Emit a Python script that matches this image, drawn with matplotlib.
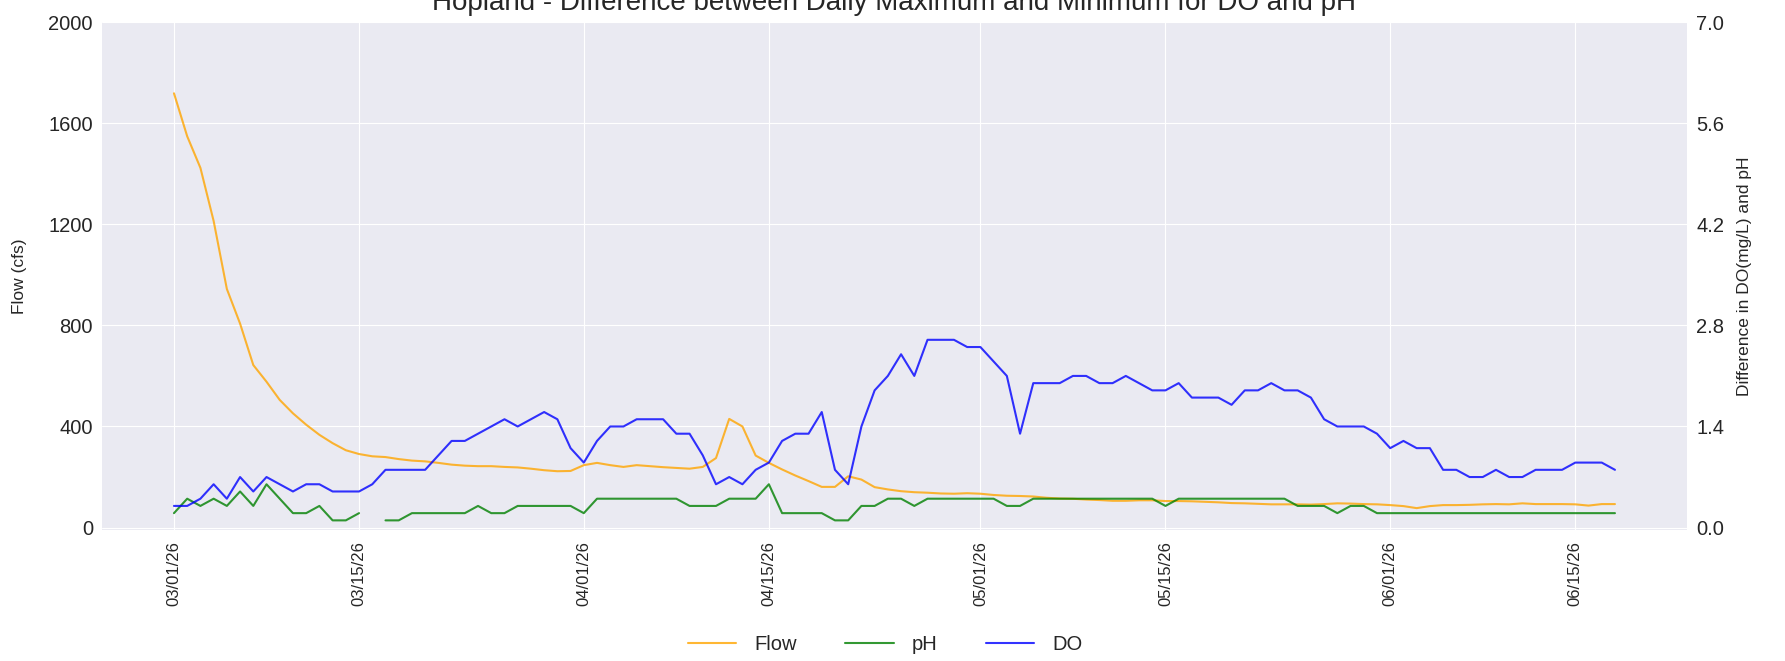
import numpy as np
import pandas as pd
import matplotlib
matplotlib.use('Agg')
import matplotlib.pyplot as plt
import matplotlib.dates as mdates

# daily values, 03/01/26 .. 06/18/26
dates = pd.date_range('2026-03-01', periods=110, freq='D')

flow = [1718, 1548, 1423, 1213, 944, 807, 643, 577, 505, 452,
        407, 367, 334, 306, 291, 282, 279, 271, 265, 262,
        256, 249, 245, 243, 243, 240, 238, 233, 227, 223,
        224, 247, 256, 247, 240, 247, 243, 239, 236, 233,
        240, 275, 430, 400, 285, 256, 230, 206, 184, 161,
        161, 203, 190, 160, 151, 144, 140, 138, 135, 134,
        136, 134, 129, 126, 125, 123, 118, 115, 114, 111,
        109, 106, 106, 108, 108, 105, 105, 104, 102, 100,
        97, 96, 94, 92, 92, 92, 91, 93, 96, 95,
        93, 92, 89, 85, 77, 85, 89, 89, 90, 92,
        93, 92, 96, 93, 93, 93, 92, 87, 93, 93]

ph = [0.2, 0.4, 0.3, 0.4, 0.3, 0.5, 0.3, 0.6, 0.4, 0.2,
      0.2, 0.3, 0.1, 0.1, 0.2, np.nan, 0.1, 0.1, 0.2, 0.2,
      0.2, 0.2, 0.2, 0.3, 0.2, 0.2, 0.3, 0.3, 0.3, 0.3,
      0.3, 0.2, 0.4, 0.4, 0.4, 0.4, 0.4, 0.4, 0.4, 0.3,
      0.3, 0.3, 0.4, 0.4, 0.4, 0.6, 0.2, 0.2, 0.2, 0.2,
      0.1, 0.1, 0.3, 0.3, 0.4, 0.4, 0.3, 0.4, 0.4, 0.4,
      0.4, 0.4, 0.4, 0.3, 0.3, 0.4, 0.4, 0.4, 0.4, 0.4,
      0.4, 0.4, 0.4, 0.4, 0.4, 0.3, 0.4, 0.4, 0.4, 0.4,
      0.4, 0.4, 0.4, 0.4, 0.4, 0.3, 0.3, 0.3, 0.2, 0.3,
      0.3, 0.2, 0.2, 0.2, 0.2, 0.2, 0.2, 0.2, 0.2, 0.2,
      0.2, 0.2, 0.2, 0.2, 0.2, 0.2, 0.2, 0.2, 0.2, 0.2]

do = [0.3, 0.3, 0.4, 0.6, 0.4, 0.7, 0.5, 0.7, 0.6, 0.5,
      0.6, 0.6, 0.5, 0.5, 0.5, 0.6, 0.8, 0.8, 0.8, 0.8,
      1.0, 1.2, 1.2, 1.3, 1.4, 1.5, 1.4, 1.5, 1.6, 1.5,
      1.1, 0.9, 1.2, 1.4, 1.4, 1.5, 1.5, 1.5, 1.3, 1.3,
      1.0, 0.6, 0.7, 0.6, 0.8, 0.9, 1.2, 1.3, 1.3, 1.6,
      0.8, 0.6, 1.4, 1.9, 2.1, 2.4, 2.1, 2.6, 2.6, 2.6,
      2.5, 2.5, 2.3, 2.1, 1.3, 2.0, 2.0, 2.0, 2.1, 2.1,
      2.0, 2.0, 2.1, 2.0, 1.9, 1.9, 2.0, 1.8, 1.8, 1.8,
      1.7, 1.9, 1.9, 2.0, 1.9, 1.9, 1.8, 1.5, 1.4, 1.4,
      1.4, 1.3, 1.1, 1.2, 1.1, 1.1, 0.8, 0.8, 0.7, 0.7,
      0.8, 0.7, 0.7, 0.8, 0.8, 0.8, 0.9, 0.9, 0.9, 0.8]

plt.style.use('seaborn-v0_8-darkgrid')
plt.rcParams['font.family'] = ['Liberation Sans', 'DejaVu Sans']
plt.rcParams['text.color'] = '.15'
plt.rcParams['xtick.color'] = '.15'
plt.rcParams['ytick.color'] = '.15'

fig = plt.figure(figsize=(17.85, 6.61), dpi=100)
ax = fig.add_axes([0.0571, 0.198, 0.888, 0.7687])

l1, = ax.plot(dates, flow, color='orange', alpha=0.8, lw=1.5, label='Flow')
ax.set_ylim(-10, 2000)
ax.set_yticks([0, 400, 800, 1200, 1600, 2000])
ax.set_ylabel('Flow (cfs)', fontsize=12.5)
ax.yaxis.set_label_coords(-0.047, 0.5)
ax.tick_params(axis='y', labelsize=14.5, pad=6.5)
ax.tick_params(axis='x', labelsize=12, pad=8, labelrotation=90)

ax.xaxis.set_major_locator(mdates.DayLocator(bymonthday=[1, 15]))
ax.xaxis.set_major_formatter(mdates.DateFormatter('%m/%d/%y'))

ax2 = ax.twinx()
l2, = ax2.plot(dates, ph, color='green', alpha=0.8, lw=1.5, label='pH')
l3, = ax2.plot(dates, do, color='blue', alpha=0.8, lw=1.5, label='DO')
ax2.grid(False)
ax2.set_ylim(-0.035, 7)
ax2.set_yticks(np.linspace(0, 7, 6))
ax2.set_ylabel('Difference in DO(mg/L) and pH', fontsize=12.5)
ax2.yaxis.set_label_coords(1.0315, 0.5)
ax2.tick_params(axis='y', labelsize=14.5, pad=6.5)

ax.set_title('Hopland - Difference between Daily Maximum and Minimum for DO and pH',
             fontsize=20, pad=9)

fig.legend(handles=[l1, l2, l3], loc='center', bbox_to_anchor=(0.496, 0.025),
           ncol=3, frameon=False, fontsize=14.5, handlelength=2.4,
           columnspacing=2.4, handletextpad=0.9)

fig.savefig('out.png', dpi=100)
